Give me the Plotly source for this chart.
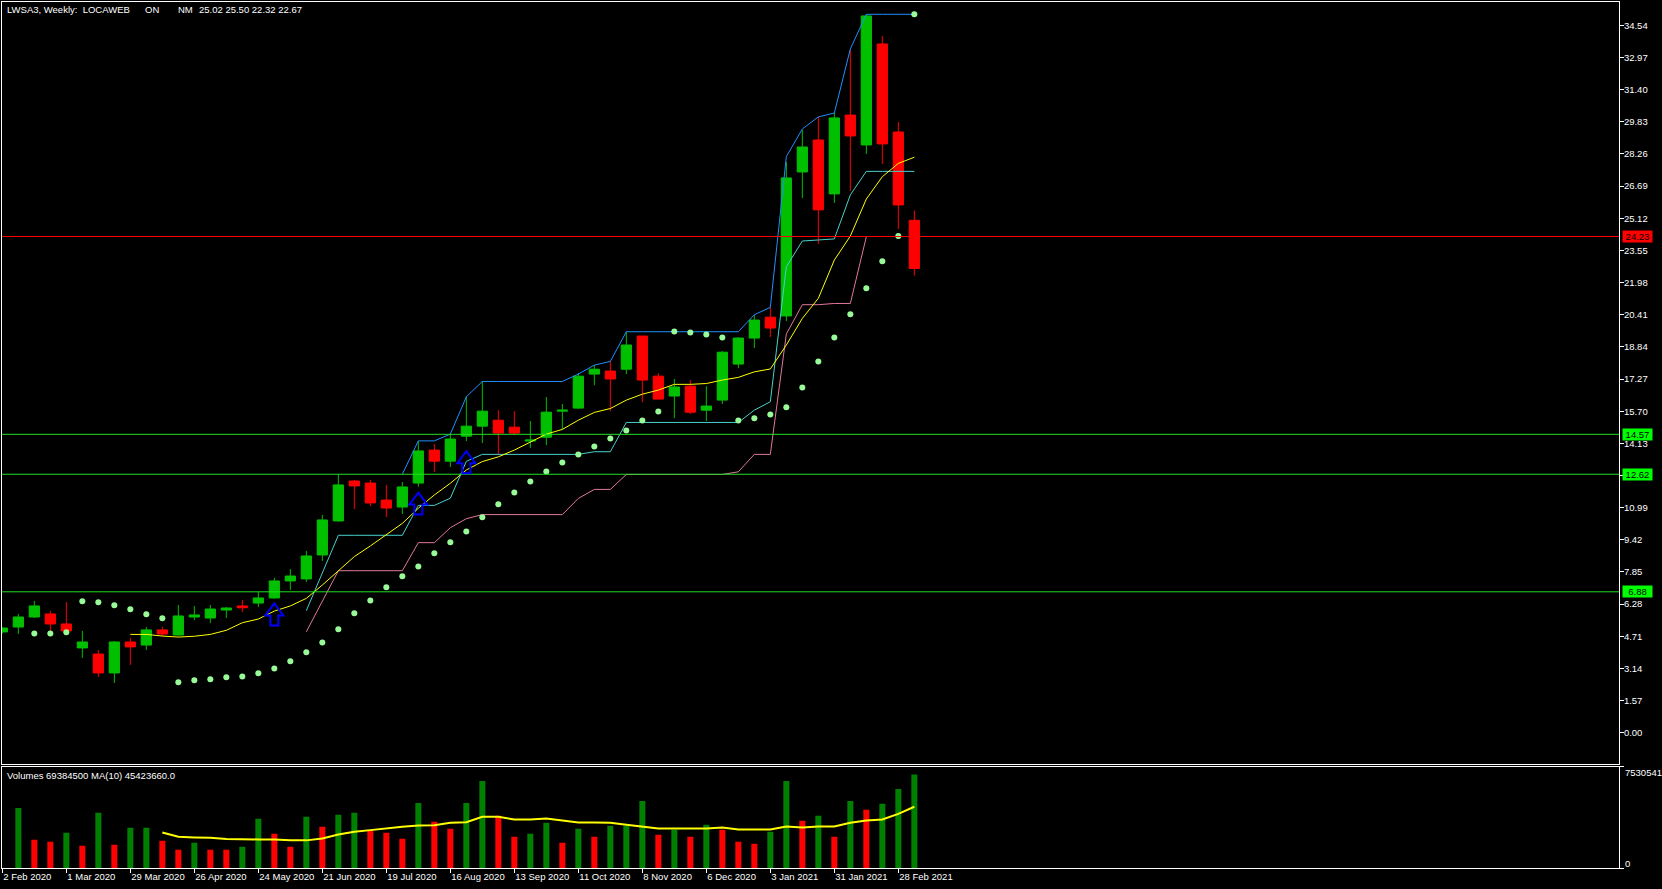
import plotly.graph_objects as go

dates = ["2020-02-02","2020-02-09","2020-02-16","2020-02-23","2020-03-01","2020-03-08","2020-03-15","2020-03-22","2020-03-29",
"2020-04-05","2020-04-12","2020-04-19","2020-04-26","2020-05-03","2020-05-10","2020-05-17","2020-05-24","2020-05-31",
"2020-06-07","2020-06-14","2020-06-21","2020-06-28","2020-07-05","2020-07-12","2020-07-19","2020-07-26",
"2020-08-02","2020-08-09","2020-08-16","2020-08-23","2020-08-30","2020-09-06","2020-09-13","2020-09-20","2020-09-27",
"2020-10-04","2020-10-11","2020-10-18","2020-10-25","2020-11-01","2020-11-08","2020-11-15","2020-11-22","2020-11-29",
"2020-12-06","2020-12-13","2020-12-20","2020-12-27","2021-01-03","2021-01-10","2021-01-17","2021-01-24","2021-01-31",
"2021-02-07","2021-02-14","2021-02-21","2021-02-28","2021-03-07"]

opens = [4.92,5.16,5.65,5.80,5.31,4.14,3.84,2.92,4.43,4.28,5.02,4.77,5.65,5.60,5.99,6.19,6.33,6.58,7.41,7.51,8.68,10.34,12.29,12.19,11.36,11.02,12.19,13.80,13.26,14.48,14.97,15.26,14.92,14.24,14.43,15.70,15.85,17.51,17.66,17.75,19.37,17.41,16.44,16.92,15.75,16.24,18.00,19.27,20.29,20.35,27.38,28.94,26.31,30.16,28.70,33.63,29.33,25.02]
highs = [5.15,5.80,6.43,5.94,6.38,4.97,4.04,4.48,4.63,5.16,5.16,6.24,6.19,6.24,6.14,6.48,6.87,7.56,7.99,8.87,10.63,12.63,12.34,12.34,12.10,12.24,14.24,14.09,14.58,16.44,17.17,15.75,15.70,15.22,16.39,16.05,17.56,17.95,18.14,19.58,19.37,17.56,17.27,17.22,16.92,18.63,19.32,20.39,20.78,27.87,29.43,30.07,30.26,33.34,35.08,34.02,29.82,25.50]
lows = [4.85,4.82,5.60,4.97,4.85,3.65,2.72,2.43,3.31,4.04,4.72,4.72,5.50,5.36,5.60,5.89,6.14,6.55,6.97,7.36,8.39,10.30,10.92,11.07,10.53,10.68,12.01,12.72,12.97,14.24,14.14,13.60,14.53,13.90,14.04,14.82,15.82,16.97,15.70,17.51,16.14,16.29,15.36,15.56,15.22,16.05,17.80,18.78,19.32,20.10,26.11,23.87,25.87,26.45,28.26,27.77,24.60,22.32]
closes = [5.11,5.65,6.19,5.31,4.97,4.43,2.92,4.43,4.19,5.02,4.82,5.70,5.75,6.04,6.09,6.10,6.58,7.41,7.65,8.63,10.39,12.10,12.05,11.22,10.97,12.00,13.76,13.26,14.34,14.97,15.70,14.63,14.63,14.29,15.65,15.75,17.41,17.75,17.27,18.93,17.22,16.29,16.88,15.65,15.95,18.58,19.27,20.15,19.76,27.09,28.60,25.53,30.02,29.14,35.00,28.75,25.77,22.67]

N = None
ma_line = [N]*8 + [4.80,4.80,4.72,4.67,4.71,4.80,5.00,5.37,5.55,5.94,6.19,6.56,7.21,7.91,8.60,9.12,9.65,10.22,10.96,11.61,12.18,12.83,13.24,13.47,13.80,14.17,14.58,14.81,15.26,15.64,15.83,16.24,16.53,16.73,17.01,17.01,17.05,17.22,17.35,17.62,17.76,18.93,20.23,21.21,23.08,24.25,26.06,27.15,27.80,28.10]
upper_band = [N]*25 + [12.62,14.25,14.25,14.58,16.40,17.15,17.15,17.15,17.15,17.15,17.15,17.51,17.95,18.13,19.58,19.58,19.58,19.58,19.58,19.58,19.58,19.58,20.41,20.77,28.13,29.48,30.07,30.26,33.39,35.08,35.08,35.08,35.08]
mid_band = [N]*19 + [5.96,7.78,9.64,9.64,9.64,9.64,9.64,11.10,11.10,11.45,13.25,13.59,13.59,13.59,13.59,13.59,13.59,13.59,13.72,13.72,15.15,15.15,15.15,15.15,15.15,15.15,15.15,15.15,15.75,16.16,22.75,24.01,24.06,24.11,26.26,27.41,27.41,27.41,27.41]
lower_band = [N]*19 + [4.93,6.40,7.91,7.91,7.91,7.91,7.91,9.28,9.28,10.01,10.45,10.65,10.65,10.65,10.65,10.65,10.65,11.44,11.88,11.88,12.61,12.61,12.61,12.61,12.61,12.61,12.61,12.74,13.59,13.59,19.47,20.90,20.90,20.96,20.96,24.22]
sar = [N,N,4.85,4.85,4.90,6.42,6.37,6.22,6.03,5.78,5.59,2.46,2.56,2.61,2.71,2.75,2.90,3.14,3.49,3.93,4.41,5.05,5.83,6.46,7.10,7.64,8.12,8.76,9.30,9.83,10.52,11.15,11.73,12.27,12.76,13.20,13.59,13.98,14.37,14.76,15.25,15.69,19.59,19.54,19.45,19.30,15.25,15.35,15.54,15.89,16.86,18.13,19.30,20.43,21.70,23.02,24.26,35.08]

volumes = [N,44.6e6,21.0e6,19.5e6,26.1e6,16.5e6,40.9e6,17.3e6,29.8e6,29.8e6,20.2e6,13.6e6,18.7e6,13.6e6,13.6e6,15.8e6,36.5e6,25.4e6,15.8e6,38.0e6,30.6e6,39.5e6,40.9e6,27.6e6,26.1e6,21.7e6,48.3e6,34.3e6,29.1e6,48.3e6,64.6e6,38.7e6,23.2e6,25.4e6,33.5e6,18.7e6,29.1e6,23.2e6,31.3e6,31.3e6,49.8e6,24.7e6,28.4e6,23.2e6,32.1e6,28.4e6,19.5e6,18.0e6,26.9e6,64.6e6,35.0e6,38.7e6,23.2e6,49.8e6,43.2e6,47.6e6,58.7e6,69384500]
volume_dir = "xGRRGRGRGGRRGRRGGRRGRGGRRRGRRGGRRGGRGRGGGRGRGRRRGGRGRGRGGG"
volume_ma = [N]*10 + [26.4e6,23.2e6,22.7e6,22.4e6,21.5e6,21.2e6,21.2e6,21.2e6,20.5e6,20.5e6,21.9e6,24.9e6,26.9e6,28.1e6,29.6e6,30.6e6,31.6e6,31.8e6,33.5e6,34.0e6,38.0e6,38.0e6,36.0e6,36.0e6,36.7e6,35.5e6,33.8e6,33.8e6,33.5e6,32.1e6,30.6e6,29.3e6,29.3e6,29.3e6,29.3e6,30.1e6,28.6e6,28.6e6,28.6e6,30.8e6,30.1e6,30.8e6,30.8e6,33.5e6,35.3e6,36.0e6,40.2e6,45423660]

price_ticks = [34.54,32.97,31.40,29.83,28.26,26.69,25.12,23.55,21.98,20.41,18.84,17.27,15.70,14.13,12.56,10.99,9.42,7.85,6.28,4.71,3.14,1.57,0.00]
date_ticks = ["2020-02-02","2020-03-01","2020-03-29","2020-04-26","2020-05-24","2020-06-21","2020-07-19","2020-08-16","2020-09-13","2020-10-11","2020-11-08","2020-12-06","2021-01-03","2021-01-31","2021-02-28"]
date_labels = ["2 Feb 2020","1 Mar 2020","29 Mar 2020","26 Apr 2020","24 May 2020","21 Jun 2020","19 Jul 2020","16 Aug 2020","13 Sep 2020","11 Oct 2020","8 Nov 2020","6 Dec 2020","3 Jan 2021","31 Jan 2021","28 Feb 2021"]
green_levels = [14.57,12.62,6.88]
red_levels = [24.23]
arrow_dates = ["2020-05-31","2020-08-02","2020-08-23"]
arrow_prices = [5.24,10.65,12.67]
volume_scale_top = 75305419

W, H = 1662, 889
FONT = "Liberation Sans"
FS = 9.5
WHITE = "#ffffff"
CANDLE_G = "#00c000"
CANDLE_R = "#ff0000"

fig = go.Figure()
fig.add_trace(go.Candlestick(x=dates, open=opens, high=highs, low=lows, close=closes,
    increasing=dict(line=dict(color=CANDLE_G, width=1), fillcolor=CANDLE_G),
    decreasing=dict(line=dict(color=CANDLE_R, width=1), fillcolor=CANDLE_R),
    xaxis="x", yaxis="y", hoverinfo="skip"))
for series, col in [(lower_band, "#e0789a"), (mid_band, "#48d1cc"), (upper_band, "#1e90ff"), (ma_line, "#ffff00")]:
    fig.add_trace(go.Scatter(x=dates, y=series, mode="lines", line=dict(color=col, width=1),
                             xaxis="x", yaxis="y", hoverinfo="skip", connectgaps=False))
fig.add_trace(go.Scatter(x=dates, y=sar, mode="markers", marker=dict(color="#98fb98", size=6),
                         xaxis="x", yaxis="y", hoverinfo="skip"))
fig.add_trace(go.Bar(x=dates, y=volumes,
                     marker=dict(color=["#008000" if c == "G" else "#ff0000" for c in volume_dir], line_width=0),
                     width=[6 * 7 * 86400000 / 16] * len(dates), xaxis="x2", yaxis="y2", hoverinfo="skip"))
fig.add_trace(go.Scatter(x=dates, y=volume_ma, mode="lines", line=dict(color="#ffff00", width=2),
                         xaxis="x2", yaxis="y2", hoverinfo="skip"))

shapes = []
for v in green_levels:
    shapes.append(dict(type="line", xref="x domain", yref="y", x0=0, x1=1, y0=v, y1=v, line=dict(color="#20e020", width=1)))
for v in red_levels:
    shapes.append(dict(type="line", xref="x domain", yref="y", x0=0, x1=1, y0=v, y1=v, line=dict(color="#ff0000", width=1)))
arrow_path = "M0,22 L-9,10 L-4,10 L-4,0 L4,0 L4,10 L9,10 Z"
for d, p in zip(arrow_dates, arrow_prices):
    shapes.append(dict(type="path", xref="x", yref="y", xsizemode="pixel", ysizemode="pixel",
                       xanchor=d, yanchor=p, path=arrow_path, line=dict(color="#0000ff", width=2)))

anns = []
def txt(x, y, s, yref="paper"):
    anns.append(dict(xref="paper", yref=yref, x=x / W, y=(1 - y / H) if yref == "paper" else y, text=s, showarrow=False,
                     xanchor="left", yanchor="middle", font=dict(family=FONT, size=FS, color=WHITE)))
txt(5, 9.5, "LWSA3, Weekly:\u00a0 LOCAWEB")
txt(143, 9.5, "ON")
txt(176, 9.5, "NM")
txt(197, 9.5, "25.02 25.50 22.32 22.67")
txt(5, 775, "Volumes 69384500 MA(10) 45423660.0")
txt(1623, 772, f"{volume_scale_top}")
txt(1623, 863, "0")
for v, col in [(x, "#00ff00") for x in green_levels] + [(x, "#ff0000") for x in red_levels]:
    anns.append(dict(xref="paper", yref="y", x=1622 / W, y=v, text=f"{v:.2f}", showarrow=False, xanchor="left", yanchor="middle",
                     width=27, height=9, borderpad=1, bgcolor=col, align="center",
                     font=dict(family=FONT, size=FS, color="#000000")))

x_range = ["2020-02-01 20:30", "2022-01-09 07:00"]
axis_common = dict(showgrid=False, zeroline=False, showline=True, linecolor=WHITE, linewidth=1, mirror=True)
fig.update_layout(
    width=W, height=H, margin=dict(l=0, r=0, t=0, b=0), autosize=False,
    paper_bgcolor="#000000", plot_bgcolor="#000000", showlegend=False, hovermode=False,
    font=dict(family=FONT, size=FS, color=WHITE), boxgap=0.2, boxgroupgap=0.2, barmode="overlay",
    shapes=shapes, annotations=anns,
    xaxis=dict(domain=[2 / W, 1619 / W], range=x_range, anchor="y", showticklabels=False, ticks="",
               rangeslider=dict(visible=False), type="date", **axis_common),
    yaxis=dict(domain=[(H - 764) / H, (H - 2) / H], range=[-1.528, 35.68], side="right", anchor="x",
               tickmode="array", tickvals=price_ticks, ticktext=[f"{v:.2f}" for v in price_ticks],
               ticks="outside", ticklen=4, tickcolor=WHITE, ticklabelstandoff=-2,
               tickfont=dict(family=FONT, size=FS, color=WHITE), **axis_common),
    xaxis2=dict(domain=[2 / W, 1619 / W], range=x_range, anchor="y2", type="date",
                tickmode="array", tickvals=date_ticks, ticktext=date_labels, ticks="outside", ticklen=4, tickcolor=WHITE,
                ticklabelposition="outside right", tickangle=0, tickfont=dict(family=FONT, size=FS, color=WHITE), **axis_common),
    yaxis2=dict(domain=[(H - 868) / H, (H - 766.5) / H], range=[0, volume_scale_top], side="right", anchor="x2",
                tickmode="array", tickvals=[0, volume_scale_top], ticktext=["", ""],
                ticks="outside", ticklen=4, tickcolor=WHITE, **axis_common),
)
fig.write_html("out.html", config=dict(displayModeBar=False),
               post_script="document.body.style.margin='0';document.body.style.background='#000';document.documentElement.style.overflow='hidden';")
